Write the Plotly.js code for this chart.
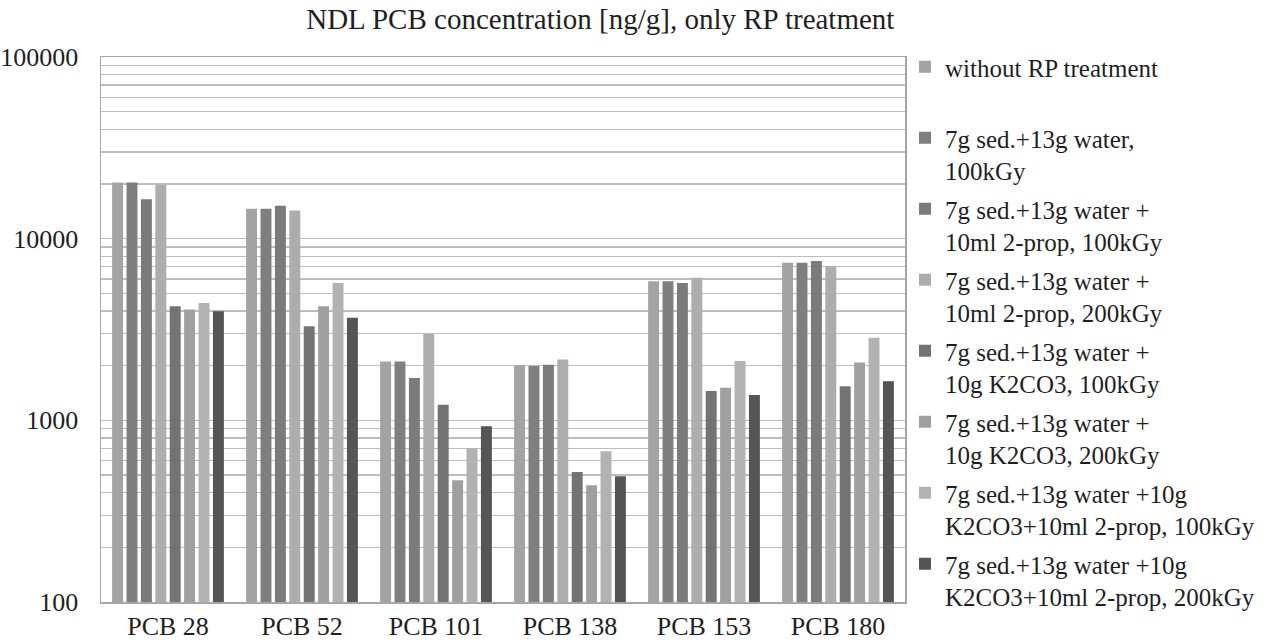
<!DOCTYPE html>
<html>
<head>
<meta charset="utf-8">
<script src="https://cdn.plot.ly/plotly-3.0.1.min.js"></script>
<style>
  html, body { margin: 0; padding: 0; background: #fff; }
  #chart { width: 1280px; height: 643px; }
</style>
</head>
<body>
<div id="chart"></div>
<script>
// categories on the x axis
const categories = ['PCB 28', 'PCB 52', 'PCB 101', 'PCB 138', 'PCB 153', 'PCB 180'];

// legend names (Excel-style two line entries)
const seriesNames = [
    'without RP treatment<br> ',
    '7g sed.+13g water,<br>100kGy',
    '7g sed.+13g water +<br>10ml 2-prop, 100kGy',
    '7g sed.+13g water +<br>10ml 2-prop, 200kGy',
    '7g sed.+13g water +<br>10g K2CO3, 100kGy',
    '7g sed.+13g water +<br>10g K2CO3, 200kGy',
    '7g sed.+13g water +10g<br>K2CO3+10ml 2-prop, 100kGy',
    '7g sed.+13g water +10g<br>K2CO3+10ml 2-prop, 200kGy'
];

// concentrations [ng/g]
const withoutRP      = [20400, 14600, 2110, 2010, 5830, 7380];
const water100       = [20400, 14600, 2110, 1990, 5830, 7380];
const prop100        = [16500, 15200, 1710, 2020, 5710, 7540];
const prop200        = [19800, 14300, 2990, 2160, 6090, 7050];
const k2co3_100      = [4250, 3300, 1220, 520, 1450, 1540];
const k2co3_200      = [4070, 4250, 468, 439, 1510, 2080];
const k2co3Prop100   = [4430, 5710, 699, 676, 2120, 2850];
const k2co3Prop200   = [3990, 3670, 927, 492, 1380, 1640];

const seriesValues = [withoutRP, water100, prop100, prop200, k2co3_100, k2co3_200, k2co3Prop100, k2co3Prop200];
const seriesColors = ['#a3a3a3', '#7f7f7f', '#7b7b7b', '#adadad', '#737373', '#a0a0a0', '#b2b2b2', '#555555'];

const FONT = 'Liberation Serif, Times New Roman, serif';

// log grid: a line at every 1..9 multiple, labels only on decades
const tickVals = [];
const tickText = [];
[100, 1000, 10000].forEach(d => {
    for (let k = 1; k <= 9; k++) {
        tickVals.push(d * k);
        tickText.push(k === 1 ? String(d) : '');
    }
});
tickVals.push(100000);
tickText.push('100000');

const traces = seriesValues.map((vals, i) => ({
    type: 'bar',
    name: seriesNames[i],
    x: categories,
    y: vals,
    legendgroup: 'g' + i,
    marker: { color: seriesColors[i], line: { width: 0 } },
    hoverinfo: 'x+y'
}));

const layout = {
    width: 1280,
    height: 643,
    margin: { l: 101, r: 370, t: 57, b: 41 },
    paper_bgcolor: '#fff',
    plot_bgcolor: '#fff',
    font: { family: FONT, size: 25, color: '#1f1f1f' },
    title: {
        text: 'NDL PCB concentration [ng/g], only RP treatment',
        font: { family: FONT, size: 29, color: '#1f1f1f' },
        xref: 'container', x: 0.469, xanchor: 'center',
        yref: 'container', y: 1 - 19 / 643, yanchor: 'middle'
    },
    barmode: 'group',
    bargap: 0.14,
    bargroupgap: 0.24,
    xaxis: {
        type: 'category',
        showline: true, mirror: true, linecolor: '#a6a6a6', linewidth: 1.5,
        showgrid: false, ticks: '',
        tickfont: { family: FONT, size: 26, color: '#1f1f1f' }
    },
    yaxis: {
        type: 'log',
        range: [2, 5],
        tickmode: 'array', tickvals: tickVals, ticktext: tickText,
        showline: true, mirror: true, linecolor: '#a6a6a6', linewidth: 1.5,
        showgrid: true, gridcolor: '#bdbdbd', gridwidth: 1.3,
        ticks: '', ticklabelstandoff: 16,
        tickfont: { family: FONT, size: 26, color: '#1f1f1f' }
    },
    showlegend: true,
    legend: {
        xref: 'container', x: 905 / 1280, xanchor: 'left',
        yref: 'container', y: 1 - 44 / 643, yanchor: 'top',
        bgcolor: 'rgba(0,0,0,0)',
        font: { family: FONT, size: 25, color: '#1f1f1f' },
        valign: 'top',
        traceorder: 'grouped',
        tracegroupgap: 3,
        maxheight: 620
    }
};

Plotly.newPlot('chart', traces, layout, { displayModeBar: false, staticPlot: true });
</script>
</body>
</html>
